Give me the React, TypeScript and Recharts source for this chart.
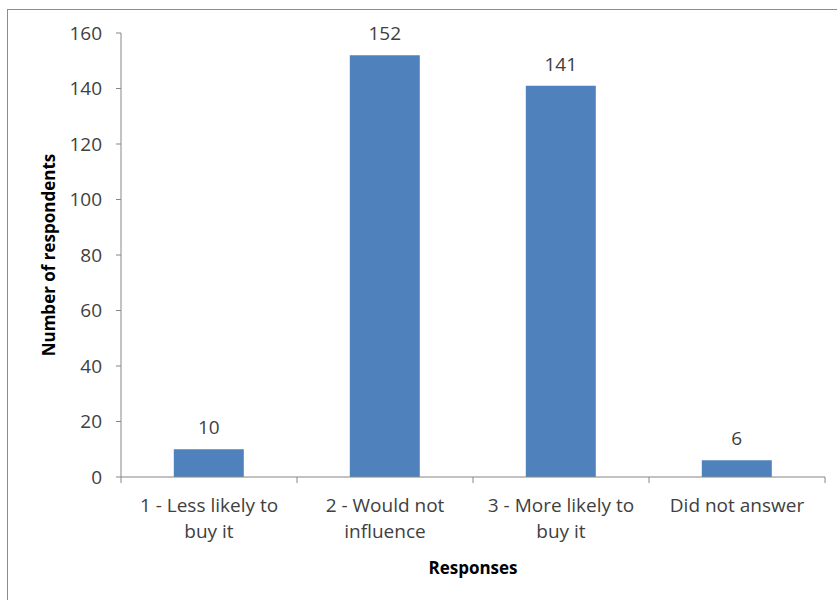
import { BarChart, Bar, XAxis, YAxis, LabelList } from "recharts";

const categories = ["1 - Less likely to buy it", "2 - Would not influence", "3 - More likely to buy it", "Did not answer"];
const tickLines = [["1 - Less likely to", "buy it"], ["2 - Would not", "influence"], ["3 - More likely to", "buy it"], ["Did not answer"]];
const respondents = [10, 152, 141, 6];
const yTicks = [0, 20, 40, 60, 80, 100, 120, 140, 160];

const data = categories.map((c, i) => ({ name: c, value: respondents[i] }));

const font = "'Open Sans', Lato, sans-serif";
const axisGray = "#868686";
const textColor = "#404040";

function CategoryTick(props: any) {
  const { x, y, payload, index } = props;
  const half = payload.offset || 0;
  const lines = tickLines[categories.indexOf(payload.value)] || [payload.value];
  return (
    <g>
      {index === 0 && <line x1={x - half} x2={x - half} y1={y - 6} y2={y} stroke={axisGray} />}
      <line x1={x + half} x2={x + half} y1={y - 6} y2={y} stroke={axisGray} />
      <text x={x} y={y} textAnchor="middle" fill={textColor} fontSize={19} fontFamily={font}>
        {lines.map((l, i) => (
          <tspan key={i} x={x} dy={i === 0 ? 29 : 26}>{l}</tspan>
        ))}
      </text>
    </g>
  );
}

export default function App() {
  return (
    <div style={{ position: "fixed", left: 0, top: 0, width: 837, height: 600, background: "#fff", overflow: "hidden" }}>
      <div style={{ position: "absolute", left: 7, top: 9, width: 900, height: 700, border: "1px solid #8c8c8c" }} />
      <div style={{ position: "absolute", left: 0, top: 0 }}>
        <BarChart width={837} height={600} data={data} margin={{ top: 33, right: 12, left: 0, bottom: 0 }} barCategoryGap="30%">
          <YAxis
            width={121}
            domain={[0, 160]}
            ticks={yTicks}
            interval={0}
            tickSize={5}
            tickMargin={14}
            stroke={axisGray}
            tick={{ fill: textColor, fontSize: 19, fontFamily: font }}
            label={{ value: "Number of respondents", angle: -90, position: "insideLeft", offset: 49, style: { textAnchor: "middle", fontWeight: 700, fontSize: 17, fill: "#000", fontFamily: font } }}
          />
          <XAxis
            dataKey="name"
            height={123}
            interval={0}
            tickLine={false}
            tickSize={6}
            tickMargin={0}
            stroke={axisGray}
            tick={<CategoryTick />}
            label={{ value: "Responses", position: "insideBottom", offset: 26, style: { fontWeight: 700, fontSize: 17, fill: "#000", fontFamily: font } }}
          />
          <Bar dataKey="value" fill="#4F81BD" isAnimationActive={false}>
            <LabelList dataKey="value" position="top" offset={15} fill={textColor} fontSize={19} fontFamily={font} />
          </Bar>
        </BarChart>
      </div>
    </div>
  );
}
